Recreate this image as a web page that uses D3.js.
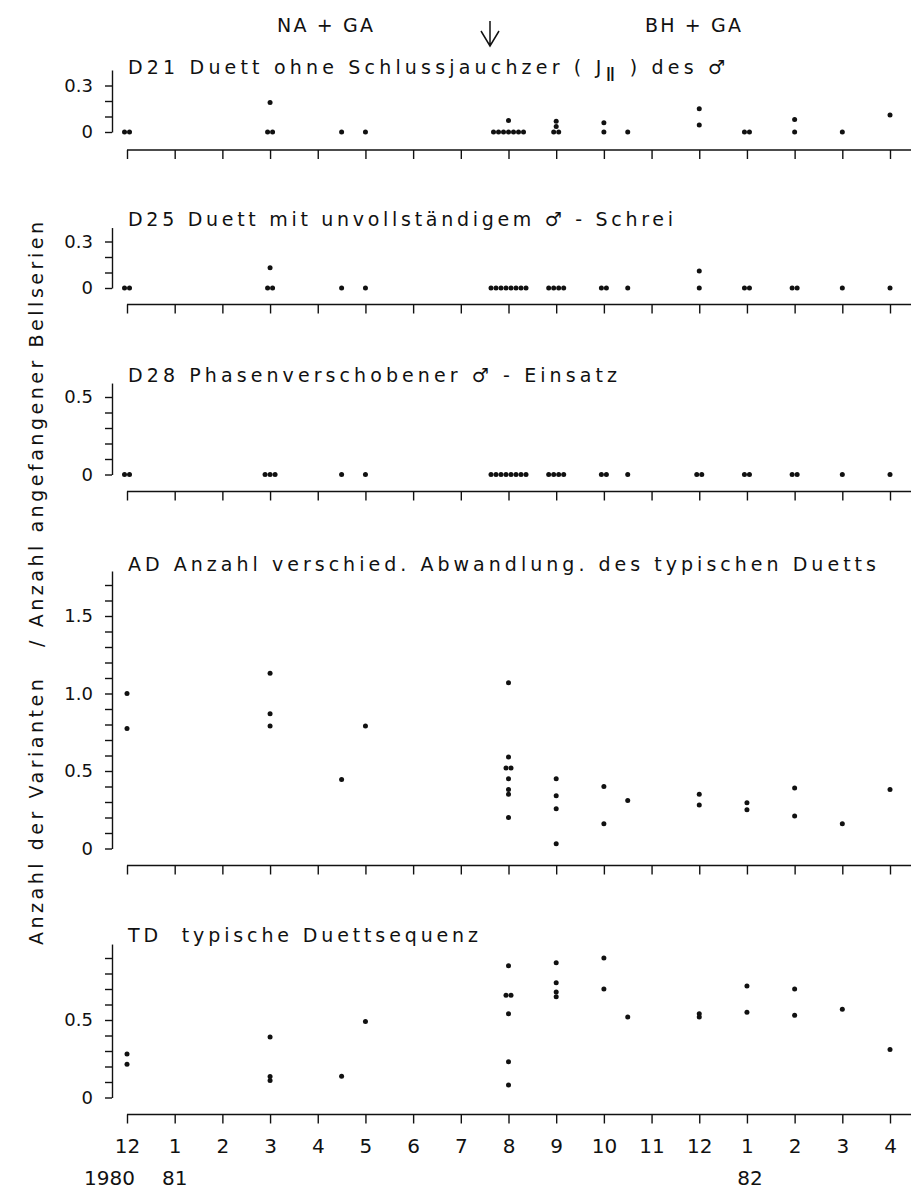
<!DOCTYPE html>
<html>
<head>
<meta charset="utf-8">
<script src="https://cdn.jsdelivr.net/npm/d3@7"></script>
<style>
  html, body { margin: 0; padding: 0; background: #fff; }
  svg { display: block; font-family: "DejaVu Sans", sans-serif; }
  text { fill: #111; }
</style>
</head>
<body>
<svg id="chart" width="911" height="1190"></svg>
<script>
// ---- data -------------------------------------------------------------
// Month positions are counted from December 1980 (0) to April 1982 (16).
const monthTicks  = d3.range(0, 17);
const monthLabels = ["12","1","2","3","4","5","6","7","8","9","10","11","12","1","2","3","4"];
const yearLabels  = [{ m: 0, t: "1980" }, { m: 1, t: "81" }, { m: 13, t: "82" }];

// [month, value] for each recording
const d21 = [
  [0,0],[0,0],
  [3,0],[3,0],[3,0.19],
  [4.5,0],[5,0],
  [8,0],[8,0],[8,0],[8,0],[8,0],[8,0],[8,0],[8,0.075],
  [9,0],[9,0],[9,0.035],[9,0.07],
  [10,0],[10,0.06],
  [10.5,0],
  [12,0.045],[12,0.15],
  [13,0],[13,0],
  [14,0],[14,0.08],
  [15,0],
  [16,0.11]
];
const d25 = [
  [0,0],[0,0],
  [3,0],[3,0],[3,0.13],
  [4.5,0],[5,0],
  [8,0],[8,0],[8,0],[8,0],[8,0],[8,0],[8,0],[8,0],
  [9,0],[9,0],[9,0],[9,0],
  [10,0],[10,0],
  [10.5,0],
  [12,0],[12,0.11],
  [13,0],[13,0],
  [14,0],[14,0],
  [15,0],
  [16,0]
];
const d28 = [
  [0,0],[0,0],
  [3,0],[3,0],[3,0],
  [4.5,0],[5,0],
  [8,0],[8,0],[8,0],[8,0],[8,0],[8,0],[8,0],[8,0],
  [9,0],[9,0],[9,0],[9,0],
  [10,0],[10,0],
  [10.5,0],
  [12,0],[12,0],
  [13,0],[13,0],
  [14,0],[14,0],
  [15,0],
  [16,0]
];
const ad = [
  [0,1.0],[0,0.775],
  [3,1.13],[3,0.87],[3,0.79],
  [4.5,0.445],[5,0.79],
  [8,1.07],[8,0.59],[8,0.52],[8,0.52],[8,0.45],[8,0.38],[8,0.35],[8,0.20],
  [9,0.45],[9,0.34],[9,0.256],[9,0.03],
  [10,0.40],[10,0.16],
  [10.5,0.31],
  [12,0.35],[12,0.28],
  [13,0.295],[13,0.25],
  [14,0.39],[14,0.21],
  [15,0.16],
  [16,0.38]
];
const td = [
  [0,0.28],[0,0.215],
  [3,0.39],[3,0.135],[3,0.11],
  [4.5,0.137],[5,0.49],
  [8,0.85],[8,0.66],[8,0.66],[8,0.54],[8,0.23],[8,0.08],
  [9,0.87],[9,0.74],[9,0.68],[9,0.65],
  [10,0.90],[10,0.70],
  [10.5,0.52],
  [12,0.54],[12,0.52],
  [13,0.72],[13,0.55],
  [14,0.70],[14,0.53],
  [15,0.57],
  [16,0.31]
];

// ---- layout -----------------------------------------------------------
const W = 911;
const yAxisX = 112;
const unitPx = 155;            // pixels per unit on every value axis
const dotR = 2.5, dotGap = 5;  // coinciding values are set side by side

const x = d3.scaleLinear().domain([0, 16]).range([127, 890]);

const panels = [
  { data: d21, zero: 132,   top: 0.40, tickMax: 0.3, labels: [0, 0.3],           axisY: 150,   titleY: 74,  titleW: 597, title: "d21" },
  { data: d25, zero: 288,   top: 0.39, tickMax: 0.3, labels: [0, 0.3],           axisY: 304.5, titleY: 226, titleW: 545, title: "D25 Duett mit unvollständigem ♂ - Schrei" },
  { data: d28, zero: 474.5, top: 0.59, tickMax: 0.5, labels: [0, 0.5],           axisY: 491.5, titleY: 382, titleW: 489, title: "D28 Phasenverschobener ♂ - Einsatz" },
  { data: ad,  zero: 848.5, top: 1.79, tickMax: 1.7, labels: [0, 0.5, 1.0, 1.5], axisY: 865.5, titleY: 571, titleW: 748, title: "AD Anzahl verschied. Abwandlung. des typischen Duetts" },
  { data: td,  zero: 1097.5,top: 0.99, tickMax: 0.9, labels: [0, 0.5],           axisY: 1114.5,titleY: 942, titleW: 350, title: "TD  typische Duettsequenz" }
];

const svg = d3.select("#chart");
const ink = "#111";

// spread recordings that share month and value horizontally
function place(points) {
  const groups = d3.group(points, d => d[0] + "|" + d[1].toFixed(3));
  const out = [];
  for (const g of groups.values()) {
    g.forEach((d, i) => out.push({ m: d[0], v: d[1], k: i - (g.length - 1) / 2 }));
  }
  return out;
}

function labelFmt(v) {
  if (v === 0) return "0";
  return d3.format(".1f")(v);
}

panels.forEach((p, pi) => {
  const y = d3.scaleLinear().domain([0, p.top]).range([p.zero, p.zero - p.top * unitPx]);
  const g = svg.append("g");

  // value axis
  const ticks = d3.range(0, Math.round(p.tickMax * 10) + 1).map(i => i / 10);
  const yAxis = d3.axisLeft(y)
    .tickValues(ticks)
    .tickSize(7)
    .tickSizeOuter(0)
    .tickPadding(12)
    .tickFormat(v => p.labels.some(l => Math.abs(l - v) < 1e-9) ? labelFmt(v) : "");
  const ya = g.append("g").attr("transform", `translate(${yAxisX},0)`).call(yAxis);
  ya.selectAll("path, line").attr("stroke", ink).attr("stroke-width", 1.4);
  ya.selectAll("text").attr("font-size", 18).attr("fill", ink)
    .attr("font-family", '"DejaVu Sans", sans-serif');

  // month axis
  const last = pi === panels.length - 1;
  const xAxis = d3.axisBottom(x)
    .tickValues(monthTicks)
    .tickSize(9)
    .tickSizeOuter(0)
    .tickPadding(15)
    .tickFormat((d, i) => last ? monthLabels[i] : "");
  const xa = g.append("g").attr("transform", `translate(0,${p.axisY})`).call(xAxis);
  xa.select(".domain").remove();
  xa.append("line").attr("x1", x(0)).attr("x2", W).attr("y1", 0).attr("y2", 0)
    .attr("stroke", ink).attr("stroke-width", 1.4);
  xa.selectAll("line").attr("stroke", ink).attr("stroke-width", 1.4);
  xa.selectAll("text").attr("font-size", 20).attr("fill", ink)
    .attr("font-family", '"DejaVu Sans", sans-serif');

  // title
  const t = g.append("text")
    .attr("x", 128).attr("y", p.titleY)
    .attr("font-size", 19)
    .attr("textLength", p.titleW)
    .attr("lengthAdjust", "spacing")
    .style("white-space", "pre");
  if (p.title === "d21") {
    t.append("tspan").text("D21 Duett ohne Schlussjauchzer ( J");
    t.append("tspan").attr("dy", 7).attr("font-size", 20).text("Ⅱ");
    t.append("tspan").attr("dy", -7).text(" ) des ♂");
  } else {
    t.text(p.title);
  }

  // recordings
  g.append("g").selectAll("circle")
    .data(place(p.data))
    .join("circle")
    .attr("cx", d => x(d.m) + d.k * dotGap)
    .attr("cy", d => y(d.v))
    .attr("r", dotR)
    .attr("fill", ink);
});

// year labels under the month labels
const lastAxisY = panels[panels.length - 1].axisY;
svg.append("g").selectAll("text")
  .data(yearLabels)
  .join("text")
  .attr("x", (d, i) => i === 0 ? x(d.m) + 8 : x(d.m) + (d.m > 1 ? 3 : 0))
  .attr("y", lastAxisY + 70)
  .attr("text-anchor", (d, i) => i === 0 ? "end" : "middle")
  .attr("font-size", 20)
  .text(d => d.t);

// group annotations and the arrow marking the change
svg.append("text").attr("x", 277).attr("y", 32).attr("font-size", 19)
  .attr("textLength", 96).attr("lengthAdjust", "spacing").text("NA + GA");
svg.append("text").attr("x", 645).attr("y", 32).attr("font-size", 19)
  .attr("textLength", 96).attr("lengthAdjust", "spacing").text("BH + GA");
const ax = 490;
svg.append("path")
  .attr("d", `M${ax},21 L${ax},46 M${ax - 9},31 L${ax},46 L${ax + 9},31`)
  .attr("fill", "none").attr("stroke", ink).attr("stroke-width", 1.5);

// shared value-axis title
svg.append("text")
  .attr("transform", "translate(43,945) rotate(-90)")
  .attr("font-size", 19)
  .attr("textLength", 723)
  .attr("lengthAdjust", "spacing")
  .style("white-space", "pre")
  .text("Anzahl der Varianten   / Anzahl angefangener Bellserien");
</script>
</body>
</html>
